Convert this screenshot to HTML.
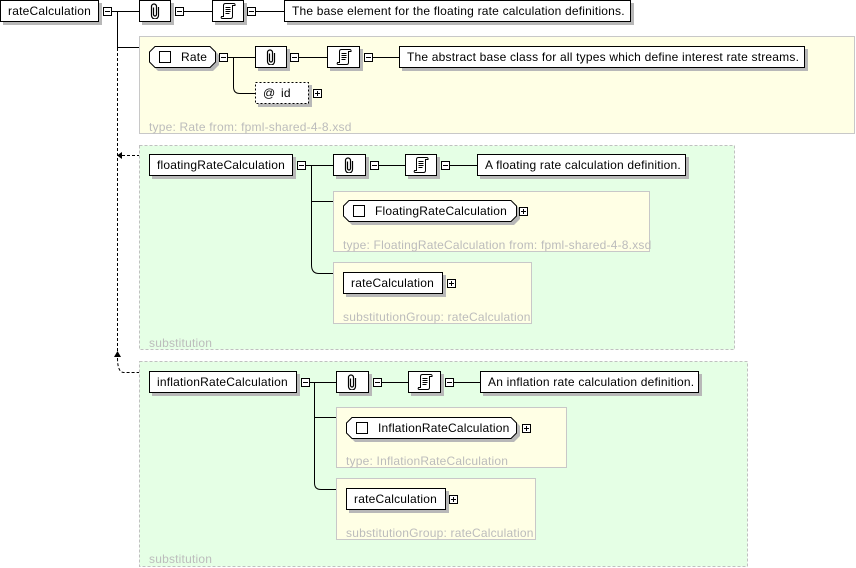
<!DOCTYPE html>
<html><head><meta charset="utf-8"><style>
html,body{margin:0;padding:0;background:#fff;width:856px;height:568px;overflow:hidden}
svg{display:block}
text{font-family:"Liberation Sans",Arial,sans-serif;font-size:12px;fill:#000;letter-spacing:0.2px}
.g{fill:#bcbcbc}
.ln{stroke:#000;stroke-width:1;fill:none}
.sh{fill:#b8b8b8}
.bx{fill:#fff;stroke:#000;stroke-width:1}
.ds{stroke:#000;stroke-width:1;fill:none;stroke-dasharray:3,2}
.yl{fill:#ffffe5;stroke:#c8c8c8;stroke-width:1}
.gr{fill:#e5ffe5;stroke:#c0c0c0;stroke-width:1;stroke-dasharray:3,2}
</style></head><body>
<svg width="856" height="568" viewBox="0 0 856 568" xmlns="http://www.w3.org/2000/svg">
<defs>
<symbol id="m" viewBox="0 0 9 9" width="9" height="9"><rect x=".5" y=".5" width="8" height="8" fill="#fff" stroke="#000"/><path d="M2 4.5h5" stroke="#000"/></symbol>
<symbol id="p" viewBox="0 0 9 9" width="9" height="9"><rect x=".5" y=".5" width="8" height="8" fill="#fff" stroke="#000"/><path d="M2 4.5h5M4.5 2v5" stroke="#000"/></symbol>
<symbol id="clip" viewBox="0 0 12 16" width="12" height="16"><path d="M4.5 4.5v7a1.5 1.5 0 0 0 3 0V3.5a2.5 2.5 0 0 0 -5 0v9a3.5 3.5 0 0 0 7 0V4" stroke="#000" stroke-width="1.2" fill="none"/></symbol>
<symbol id="doc" viewBox="0 0 16 18" width="16" height="18"><path d="M5.5 1.5H13.5Q15.5 1.5 15 3.5H12.5V14.5Q12.5 16.5 10.5 16.5H2.5Q0.5 16.5 1.5 14.5H3.5V3.5Q3.5 1.5 5.5 1.5Z" stroke="#000" fill="#fff"/><path d="M5.5 5.5h5M5.5 7.5h5M5.5 9.5h5M5.5 11.5h4" stroke="#000"/></symbol>
</defs>

<!-- Row 1 -->
<rect class="sh" x="3" y="3" width="99" height="22"/>
<rect class="bx" x=".5" y=".5" width="98" height="21"/>
<text x="8" y="15">rateCalculation</text>
<use href="#m" x="103" y="7"/>
<path class="ln" d="M112 11.5H139M117.5 11.5V47.5H139"/>
<path class="ds" d="M117.5 48V351"/>
<rect class="sh" x="142" y="3" width="32" height="22"/>
<rect class="bx" x="139.5" y=".5" width="31" height="21"/>
<use href="#clip" x="149" y="3"/>
<use href="#m" x="175" y="7"/>
<path class="ln" d="M184 11.5H212"/>
<rect class="sh" x="215" y="3" width="32" height="22"/>
<rect class="bx" x="212.5" y=".5" width="31" height="21"/>
<use href="#doc" x="220" y="2"/>
<use href="#m" x="247" y="7"/>
<path class="ln" d="M256 11.5H284"/>
<rect class="sh" x="287" y="3" width="347" height="22"/>
<rect class="bx" x="284.5" y=".5" width="346" height="21"/>
<text x="292" y="15">The base element for the floating rate calculation definitions.</text>

<!-- Rate section -->
<rect class="yl" x="139.5" y="36.5" width="715" height="97"/>
<polygon class="sh" points="158,49 213,49 219,55 219,65 213,71 158,71 152,65 152,55"/>
<polygon class="bx" points="155,46.5 210,46.5 215.5,52 215.5,62 210,67.5 155,67.5 149.5,62 149.5,52"/>
<rect class="bx" x="159.5" y="51.5" width="11" height="11"/>
<text x="181" y="61">Rate</text>
<use href="#m" x="219" y="53"/>
<path class="ln" d="M228 57.5H255M233.5 57.5V87Q233.5 93.5 240 93.5H255"/>
<rect class="sh" x="258" y="49" width="32" height="22"/>
<rect class="bx" x="255.5" y="46.5" width="31" height="21"/>
<use href="#clip" x="265" y="49"/>
<use href="#m" x="290" y="53"/>
<path class="ln" d="M299 57.5H327"/>
<rect class="sh" x="330" y="49" width="33" height="22"/>
<rect class="bx" x="327.5" y="46.5" width="32" height="21"/>
<use href="#doc" x="336" y="48"/>
<use href="#m" x="364" y="53"/>
<path class="ln" d="M373 57.5H399"/>
<rect class="sh" x="402" y="49" width="406" height="22"/>
<rect class="bx" x="399.5" y="46.5" width="405" height="21"/>
<text x="407" y="61">The abstract base class for all types which define interest rate streams.</text>
<rect class="sh" x="258" y="85" width="54" height="22"/>
<rect x="255.5" y="82.5" width="53" height="21" fill="#fff" stroke="#000" stroke-dasharray="2,2"/>
<text x="263" y="97">@</text><text x="281" y="97">id</text>
<use href="#p" x="313" y="89"/>
<text class="g" x="149" y="131">type: Rate from: fpml-shared-4-8.xsd</text>

<!-- floating section -->
<rect class="gr" x="139.5" y="145.5" width="595" height="204"/>
<polygon points="117,155.5 122,152 122,159" fill="#000"/>
<path class="ds" d="M122 155.5H139"/>
<rect class="sh" x="152" y="157" width="144" height="22"/>
<rect class="bx" x="149.5" y="154.5" width="143" height="21"/>
<text x="157" y="169">floatingRateCalculation</text>
<use href="#m" x="297" y="161"/>
<path class="ln" d="M306 165.5H333M311.5 165.5V265Q311.5 273.5 319 273.5H333M311.5 201.5H333"/>
<rect class="sh" x="336" y="157" width="33" height="22"/>
<rect class="bx" x="333.5" y="154.5" width="32" height="21"/>
<use href="#clip" x="343" y="157"/>
<use href="#m" x="370" y="161"/>
<path class="ln" d="M379 165.5H405"/>
<rect class="sh" x="408" y="157" width="32" height="22"/>
<rect class="bx" x="405.5" y="154.5" width="31" height="21"/>
<use href="#doc" x="413" y="156"/>
<use href="#m" x="441" y="161"/>
<path class="ln" d="M450 165.5H477"/>
<rect class="sh" x="480" y="157" width="209" height="22"/>
<rect class="bx" x="477.5" y="154.5" width="208" height="21"/>
<text x="485" y="169">A floating rate calculation definition.</text>
<rect class="yl" x="333.5" y="191.5" width="316" height="60"/>
<polygon class="sh" points="352,203 514,203 520,209 520,219 514,225 352,225 346,219 346,209"/>
<polygon class="bx" points="349,200.5 511,200.5 516.5,206 516.5,216 511,221.5 349,221.5 343.5,216 343.5,206"/>
<rect class="bx" x="353.5" y="205.5" width="11" height="11"/>
<text x="375" y="215">FloatingRateCalculation</text>
<use href="#p" x="519" y="207"/>
<text class="g" x="343" y="249">type: FloatingRateCalculation from: fpml-shared-4-8.xsd</text>
<rect class="yl" x="333.5" y="262.5" width="198" height="61"/>
<rect class="sh" x="346" y="275" width="100" height="22"/>
<rect class="bx" x="343.5" y="272.5" width="99" height="21"/>
<text x="351" y="287">rateCalculation</text>
<use href="#p" x="447" y="279"/>
<text class="g" x="343" y="321">substitutionGroup: rateCalculation</text>
<text class="g" x="149" y="347">substitution</text>

<!-- inflation section -->
<rect class="gr" x="139.5" y="361.5" width="608" height="205"/>
<polygon points="117.5,351 114,357 121,357" fill="#000"/>
<path class="ds" d="M117.5 358Q117.5 372.5 124 372.5H139"/>
<rect class="sh" x="152" y="374" width="148" height="22"/>
<rect class="bx" x="149.5" y="371.5" width="147" height="21"/>
<text x="157" y="386">inflationRateCalculation</text>
<use href="#m" x="301" y="378"/>
<path class="ln" d="M310 382.5H336M314.5 382.5V483Q314.5 489.5 321 489.5H336M314.5 417.5H336"/>
<rect class="sh" x="339" y="374" width="33" height="22"/>
<rect class="bx" x="336.5" y="371.5" width="32" height="21"/>
<use href="#clip" x="346" y="374"/>
<use href="#m" x="373" y="378"/>
<path class="ln" d="M382 382.5H408"/>
<rect class="sh" x="411" y="374" width="33" height="22"/>
<rect class="bx" x="408.5" y="371.5" width="32" height="21"/>
<use href="#doc" x="417" y="373"/>
<use href="#m" x="445" y="378"/>
<path class="ln" d="M454 382.5H480"/>
<rect class="sh" x="483" y="374" width="219" height="22"/>
<rect class="bx" x="480.5" y="371.5" width="218" height="21"/>
<text x="488" y="386">An inflation rate calculation definition.</text>
<rect class="yl" x="336.5" y="407.5" width="230" height="60"/>
<polygon class="sh" points="355,420 514,420 520,426 520,436 514,442 355,442 349,436 349,426"/>
<polygon class="bx" points="352,417.5 511,417.5 516.5,423 516.5,433 511,438.5 352,438.5 346.5,433 346.5,423"/>
<rect class="bx" x="356.5" y="422.5" width="11" height="11"/>
<text x="378" y="432">InflationRateCalculation</text>
<use href="#p" x="522" y="424"/>
<text class="g" x="346" y="465">type: InflationRateCalculation</text>
<rect class="yl" x="336.5" y="478.5" width="199" height="61"/>
<rect class="sh" x="349" y="491" width="100" height="22"/>
<rect class="bx" x="346.5" y="488.5" width="99" height="21"/>
<text x="354" y="503">rateCalculation</text>
<use href="#p" x="449" y="495"/>
<text class="g" x="346" y="537">substitutionGroup: rateCalculation</text>
<text class="g" x="149" y="563">substitution</text>
</svg>
</body></html>
